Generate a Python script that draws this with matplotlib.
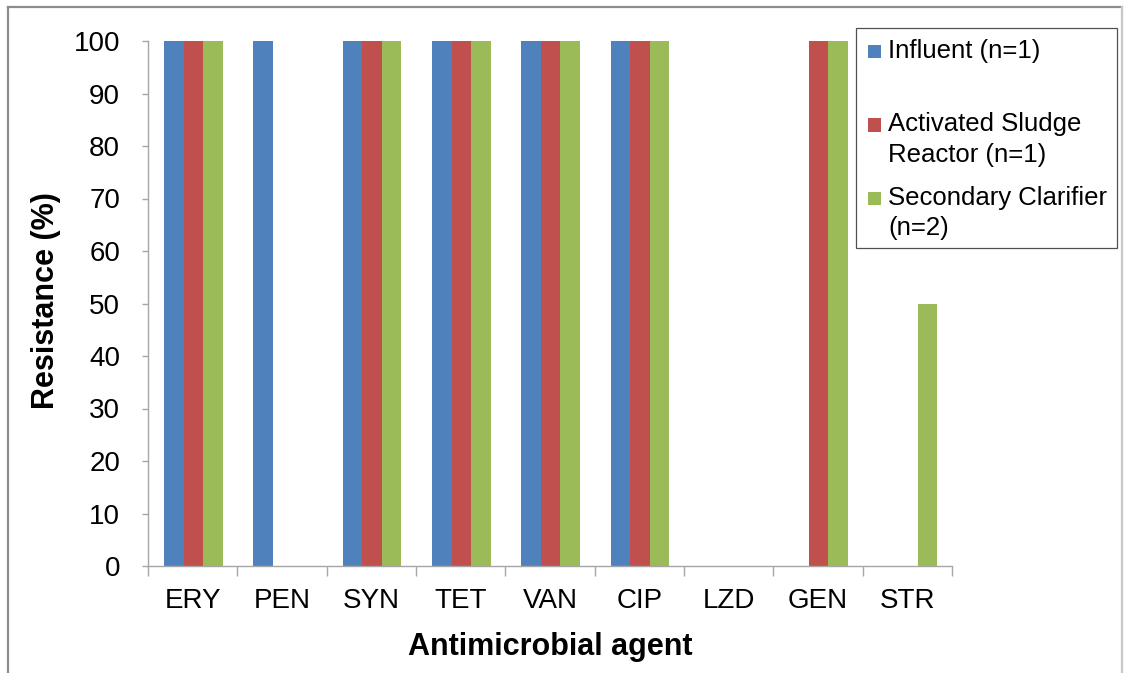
import matplotlib
matplotlib.use('Agg')
import matplotlib.pyplot as plt
from matplotlib.patches import Rectangle
from matplotlib.lines import Line2D
import numpy as np

plt.rcParams['font.family'] = ['Liberation Sans', 'DejaVu Sans']

# ---- data ----
categories = ['ERY', 'PEN', 'SYN', 'TET', 'VAN', 'CIP', 'LZD', 'GEN', 'STR']
influent = [100, 100, 100, 100, 100, 100, 0, 0, 0]
activated_sludge = [100, 0, 100, 100, 100, 100, 0, 100, 0]
secondary_clarifier = [100, 0, 100, 100, 100, 100, 0, 100, 50]
series_labels = [['Influent (n=1)'],
                 ['Activated Sludge', 'Reactor (n=1)'],
                 ['Secondary Clarifier', '(n=2)']]
y_ticks = [0, 10, 20, 30, 40, 50, 60, 70, 80, 90, 100]
x_label = 'Antimicrobial agent'
y_label = 'Resistance (%)'

# ---- layout helpers (pixels -> figure fraction) ----
W, H = 1124, 673
def fx(px):
    return px / W
def fy(py):
    return 1 - py / H

fig = plt.figure(figsize=(W / 100, H / 100), dpi=100)
fig.patch.set_facecolor('white')

ax = fig.add_axes([fx(148), fy(566), 804 / W, 525 / H])
x = np.arange(len(categories))
colors = ['#4F81BD', '#C0504D', '#9BBB59']
offsets = [-0.211, 0.007, 0.225]
width = 0.218
for vals, off, c in zip([influent, activated_sludge, secondary_clarifier], offsets, colors):
    ax.bar(x + off, vals, width, color=c, linewidth=0)

gray = '#A6A6A6'
ax.set_xlim(-0.5, len(categories) - 0.5)
ax.set_ylim(0, 100)
ax.set_yticks(y_ticks)
ax.set_xticks(x)
ax.set_xticklabels(categories)
ax.set_xticks(np.arange(-0.5, len(categories), 1), minor=True)
ax.tick_params(axis='x', which='major', length=0, pad=16, labelsize=20)
ax.tick_params(axis='x', which='minor', length=7.2, width=1, color=gray, direction='out')
ax.tick_params(axis='y', length=4.3, width=1, color=gray, pad=15.8, labelsize=20, direction='out')
for s in ['top', 'right']:
    ax.spines[s].set_visible(False)
for s in ['left', 'bottom']:
    ax.spines[s].set_color(gray)
    ax.spines[s].set_linewidth(1)

# axis titles
fig.text(fx(550), fy(655), x_label, ha='center', va='baseline', fontsize=22, fontweight='bold')
fig.text(fx(46.5), fy(301), y_label, ha='center', va='center', rotation=90,
         fontsize=22, fontweight='bold')

# legend (drawn manually to reproduce the Excel layout)
fig.add_artist(Rectangle((fx(855.5), fy(247.7)), (1116.7 - 855.5) / W, (247.7 - 28.3) / H,
                         transform=fig.transFigure, facecolor='white', edgecolor='#505050',
                         linewidth=0.9))
baselines = [[58], [131.5, 162], [205, 235]]
for lines, bls, c in zip(series_labels, baselines, colors):
    fig.add_artist(Rectangle((fx(868), fy(bls[0])), 13 / W, 13 / H,
                             transform=fig.transFigure, facecolor=c, edgecolor='none'))
    for txt, b in zip(lines, bls):
        fig.text(fx(888), fy(b), txt, ha='left', va='baseline', fontsize=18.5)

# outer border
fig.add_artist(Line2D([fx(8), fx(1122)], [fy(6.5), fy(6.5)], transform=fig.transFigure,
                      color='#8C8C8C', linewidth=1.6))
fig.add_artist(Line2D([fx(8), fx(8)], [fy(6.5), fy(673)], transform=fig.transFigure,
                      color='#8C8C8C', linewidth=1.6))
fig.add_artist(Line2D([fx(1122), fx(1122)], [fy(6.5), fy(673)], transform=fig.transFigure,
                      color='#C8C8C8', linewidth=1.6))

fig.savefig('out.png', dpi=100)
